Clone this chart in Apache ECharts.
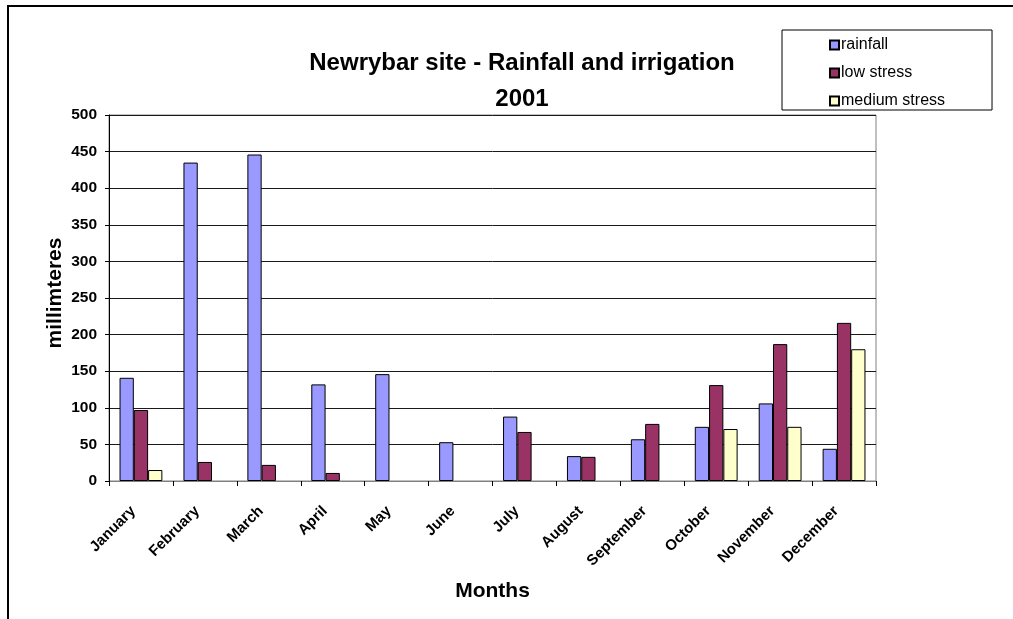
<!DOCTYPE html>
<html>
<head>
<meta charset="utf-8">
<script src="https://cdn.jsdelivr.net/npm/echarts@6/dist/echarts.min.js"></script>
<style>
  html, body { margin: 0; padding: 0; background: #fff; }
  #chart { width: 1013px; height: 619px; }
</style>
</head>
<body>
<div id="chart"></div>
<script>
// Monthly rainfall and irrigation amounts (mm), Newrybar site, 2001
const months = ['January', 'February', 'March', 'April', 'May', 'June',
                'July', 'August', 'September', 'October', 'November', 'December'];
const rainfall      = [141, 435, 446, 132, 146, 53, 88, 34, 57, 74, 106, 44];
const lowStress     = [97, 26, 22, 11, null, null, 67, 33, 78, 131, 187, 216];
const mediumStress  = [15, null, null, null, null, null, null, null, null, 71, 74, 180];
const yTicks = { min: 0, max: 500, step: 50 };

const FONT = 'Liberation Sans, Arial, sans-serif';
const chart = echarts.init(document.getElementById('chart'));

const barStyle = (color) => ({ color: color, borderColor: '#000', borderWidth: 1 });

chart.setOption({
  backgroundColor: '#fff',
  animation: false,
  title: {
    text: 'Newrybar site - Rainfall and irrigation\n2001',
    left: 517,
    top: 40,
    textAlign: 'center',
    textStyle: { fontFamily: FONT, fontSize: 24, fontWeight: 'bold', color: '#000', lineHeight: 36 }
  },
  legend: {
    orient: 'vertical',
    left: 782,
    top: 30,
    padding: [7, 47, 1, 47],
    itemWidth: 9,
    itemHeight: 9,
    itemGap: 12,
    borderColor: '#000',
    borderWidth: 1,
    icon: 'rect',
    textStyle: { fontFamily: FONT, fontSize: 16, color: '#000', padding: [0, 0, 0, -3] },
    data: ['rainfall', 'low stress', 'medium stress']
  },
  grid: {
    left: 109, right: 137, top: 115, bottom: 138,
    show: true, borderColor: '#808080', borderWidth: 1,
    containLabel: false
  },
  xAxis: {
    type: 'category',
    data: months,
    name: 'Months',
    nameLocation: 'middle',
    nameGap: 100,
    nameMoveOverlap: false,
    nameTextStyle: { fontFamily: FONT, fontSize: 21, fontWeight: 'bold', color: '#000' },
    axisLine: { lineStyle: { color: '#808080', width: 1 } },
    axisTick: { show: true, length: 5, interval: 0, alignWithLabel: false, lineStyle: { color: '#000' } },
    axisLabel: {
      interval: 0, rotate: 45, margin: 20, padding: [0, 11, 0, 0],
      fontFamily: FONT, fontSize: 15, fontWeight: 'bold', color: '#000'
    }
  },
  yAxis: {
    type: 'value',
    min: yTicks.min, max: yTicks.max, interval: yTicks.step,
    name: 'millimteres',
    nameLocation: 'middle',
    nameGap: 43,
    nameMoveOverlap: false,
    nameTextStyle: { fontFamily: FONT, fontSize: 21, fontWeight: 'bold', color: '#000', padding: [0, 0, 0, 10] },
    axisLine: { show: true, lineStyle: { color: '#000', width: 1 } },
    axisTick: { show: true, length: 4, lineStyle: { color: '#000' } },
    axisLabel: { margin: 12, fontFamily: FONT, fontSize: 15.5, fontWeight: 'bold', color: '#000' },
    splitLine: { lineStyle: { color: '#1a1a1a', width: 1 } }
  },
  series: [
    { name: 'rainfall', type: 'bar', data: rainfall, barGap: '0%', barCategoryGap: '33%', itemStyle: barStyle('#9999FF') },
    { name: 'low stress', type: 'bar', data: lowStress, barGap: '0%', barCategoryGap: '33%', itemStyle: barStyle('#993366') },
    { name: 'medium stress', type: 'bar', data: mediumStress, barGap: '0%', barCategoryGap: '33%', itemStyle: barStyle('#FFFFCC') }
  ],
  graphic: [
    {
      type: 'rect',
      z: -1, silent: true,
      shape: { x: 8, y: 6, width: 1100, height: 700 },
      style: { fill: 'none', stroke: '#000', lineWidth: 2 }
    }
  ]
});
</script>
</body>
</html>
